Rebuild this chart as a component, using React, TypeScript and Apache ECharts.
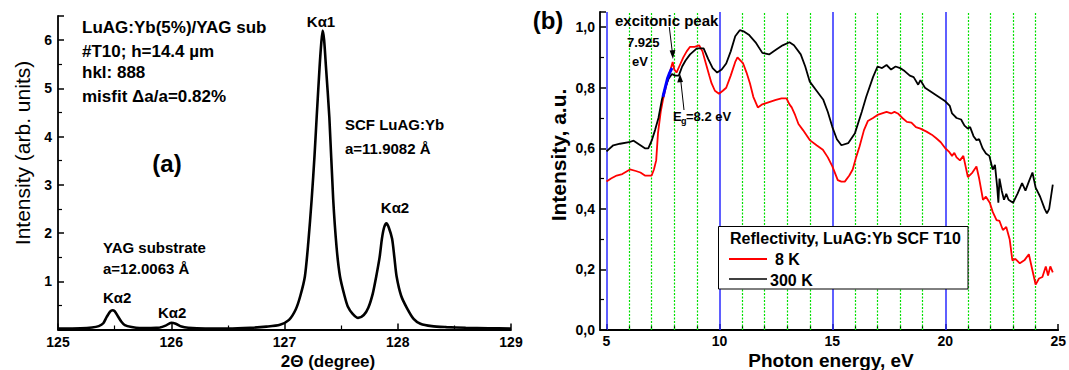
import React, { useEffect, useRef } from "react";
import * as echarts from "echarts";

// ---------- Panel (a): XRD rocking curve ----------
const xrdTheta = [
  125.0, 125.2, 125.3, 125.36, 125.4, 125.43, 125.46, 125.48, 125.5, 125.53, 125.56, 125.59, 125.65, 125.72,
  125.82, 125.9, 125.95, 126.0, 126.04, 126.09, 126.15, 126.3, 126.5, 126.7, 126.84, 126.96, 127.04, 127.1,
  127.14, 127.18, 127.21, 127.24, 127.265, 127.284, 127.31, 127.325, 127.337, 127.35, 127.366, 127.396, 127.43,
  127.46, 127.49, 127.53, 127.56, 127.6, 127.65, 127.7, 127.74, 127.78, 127.81, 127.84, 127.86, 127.88, 127.9,
  127.92, 127.95, 127.97, 127.99, 128.03, 128.08, 128.14, 128.2, 128.3, 128.43, 128.6, 128.8, 129.0,
];
const xrdIntensity = [
  0.02, 0.025, 0.04, 0.07, 0.13, 0.26, 0.37, 0.4, 0.38, 0.27, 0.16, 0.09, 0.05, 0.03,
  0.03, 0.04, 0.08, 0.14, 0.12, 0.06, 0.035, 0.02, 0.02, 0.035, 0.06, 0.1, 0.2, 0.42,
  0.7, 1.1, 1.8, 2.7, 3.6, 4.4, 5.45, 5.95, 6.2, 6.0, 5.45, 4.4, 2.7,
  1.7, 1.1, 0.7, 0.47, 0.33, 0.24, 0.3, 0.45, 0.75, 1.1, 1.5, 1.88, 2.12, 2.2,
  2.12, 1.88, 1.5, 1.1, 0.7, 0.45, 0.22, 0.12, 0.07, 0.05, 0.035, 0.025, 0.02,
];

// ---------- Panel (b): reflectivity ----------
const energy300K = [
  5.0, 5.3, 5.6, 6.0, 6.2, 6.5, 6.7, 6.85, 7.0, 7.15, 7.3, 7.45, 7.6, 7.75, 7.9, 8.05, 8.2, 8.35, 8.5, 8.7,
  9.0, 9.3, 9.5, 9.7, 9.9, 10.1, 10.3, 10.5, 10.7, 10.9, 11.1, 11.3, 11.6, 11.9, 12.2, 12.5, 12.8, 13.1, 13.3,
  13.6, 13.8, 14.0, 14.3, 14.6, 14.8, 15.0, 15.2, 15.4, 15.7, 16.0, 16.3, 16.5, 16.8, 17.0, 17.2, 17.4, 17.6,
  17.8, 18.0, 18.2, 18.43, 18.6, 18.8, 18.9, 19.1, 19.3, 19.5, 19.7, 20.0, 20.2, 20.3, 20.5, 20.7, 20.85, 21.0,
  21.1, 21.25, 21.38, 21.5, 21.65, 21.8, 21.95, 22.1, 22.2, 22.3, 22.35, 22.4, 22.5, 22.6, 22.7, 22.8, 23.0,
  23.2, 23.4, 23.55, 23.7, 23.86, 24.0, 24.2, 24.4, 24.5, 24.6, 24.76,
];
const refl300K = [
  0.59, 0.61, 0.615, 0.62, 0.625, 0.61, 0.6, 0.6, 0.625, 0.66, 0.7, 0.76, 0.8, 0.83, 0.845, 0.84, 0.84, 0.87, 0.89, 0.91,
  0.93, 0.93, 0.895, 0.865, 0.85, 0.86, 0.88, 0.92, 0.97, 0.99, 0.985, 0.975, 0.95, 0.915, 0.91, 0.925, 0.94, 0.95, 0.94,
  0.91, 0.87, 0.82, 0.79, 0.76, 0.72, 0.67, 0.63, 0.61, 0.617, 0.65, 0.72, 0.77, 0.835, 0.87, 0.865, 0.875, 0.86,
  0.87, 0.865, 0.855, 0.84, 0.835, 0.81, 0.825, 0.8, 0.79, 0.78, 0.77, 0.755, 0.74, 0.715, 0.7, 0.695, 0.675, 0.665,
  0.67, 0.64, 0.627, 0.63, 0.6, 0.583, 0.575, 0.53, 0.545, 0.47, 0.42, 0.5, 0.46, 0.43, 0.45, 0.43, 0.42,
  0.45, 0.485, 0.46, 0.49, 0.52, 0.47, 0.44, 0.4, 0.385, 0.4, 0.48,
];
const energy8K = [
  5.0, 5.2, 5.45, 5.7, 6.04, 6.3, 6.5, 6.7, 7.0, 7.1, 7.2, 7.28, 7.4, 7.5, 7.65, 7.8, 7.93, 8.0, 8.1, 8.25, 8.4,
  8.55, 8.7, 8.9, 9.1, 9.25, 9.4, 9.55, 9.65, 9.8, 9.98, 10.15, 10.3, 10.5, 10.7, 10.8, 11.05, 11.2, 11.35, 11.5,
  11.7, 11.9, 12.1, 12.3, 12.5, 12.75, 12.97, 13.1, 13.2, 13.35, 13.5, 13.7, 14.0, 14.3, 14.58, 14.8, 15.0, 15.24,
  15.4, 15.55, 15.75, 15.9, 16.05, 16.2, 16.4, 16.57, 16.8, 17.0, 17.2, 17.4, 17.6, 17.75, 17.9, 18.1, 18.3, 18.5,
  18.7, 18.9, 19.17, 19.4, 19.6, 19.8, 20.0, 20.15, 20.3, 20.4, 20.5, 20.65, 20.8, 21.0, 21.2, 21.38, 21.5, 21.67,
  21.8, 21.97, 22.1, 22.27, 22.4, 22.55, 22.7, 22.85, 22.97, 23.1, 23.3, 23.5, 23.7, 23.85, 24.0, 24.15, 24.3,
  24.45, 24.55, 24.65, 24.76,
];
const refl8K = [
  0.49, 0.5, 0.51, 0.515, 0.53, 0.525, 0.52, 0.51, 0.51, 0.53, 0.56, 0.65, 0.72, 0.76, 0.81, 0.85, 0.885, 0.86, 0.85, 0.875, 0.9,
  0.92, 0.935, 0.935, 0.94, 0.92, 0.88, 0.84, 0.815, 0.79, 0.78, 0.79, 0.8, 0.84, 0.885, 0.9, 0.88, 0.85, 0.815, 0.77,
  0.735, 0.745, 0.75, 0.755, 0.76, 0.765, 0.765, 0.745, 0.735, 0.71, 0.68, 0.66, 0.627, 0.61, 0.595, 0.57, 0.54, 0.495,
  0.49, 0.49, 0.51, 0.53, 0.57, 0.605, 0.66, 0.69, 0.7, 0.71, 0.715, 0.72, 0.715, 0.72, 0.715, 0.7, 0.687, 0.685,
  0.67, 0.665, 0.655, 0.645, 0.633, 0.62, 0.6, 0.59, 0.575, 0.585, 0.57, 0.56, 0.575, 0.505, 0.52, 0.54, 0.5, 0.43,
  0.44, 0.42, 0.39, 0.363, 0.36, 0.33, 0.34, 0.3, 0.23, 0.235, 0.22, 0.23, 0.25, 0.2, 0.15, 0.17, 0.175,
  0.21, 0.18, 0.21, 0.19,
];
const excitonEnergy = [7.5, 7.6, 7.7, 7.8, 7.9];
const excitonRefl = [0.77, 0.8, 0.83, 0.85, 0.865];

const blueGridLines = [5, 10, 15, 20];
const greenGridLines = [6, 7, 8, 9, 11, 12, 13, 14, 16, 17, 18, 19, 21, 22, 23, 24];

const FONT = "Liberation Sans, Arial, sans-serif";

const zip = (xs: number[], ys: number[]) => xs.map((x, i) => [x, ys[i]]);

function txt(text: string, x: number, y: number, size: number, opts: any = {}) {
  return {
    type: "text",
    x,
    y,
    z: 20,
    rotation: opts.rotation || 0,
    style: {
      text,
      fill: "#000",
      font: `${opts.weight || "bold"} ${size}px ${FONT}`,
      align: opts.align || "left",
      verticalAlign: "middle",
    },
  };
}

export default function App() {
  const ref = useRef<HTMLDivElement>(null);
  useEffect(() => {
    if (!ref.current) return;
    const chart = echarts.init(ref.current, null, { renderer: "svg" });
    const axisCommon = {
      axisLine: { show: true, lineStyle: { color: "#000", width: 1.8 } },
      axisTick: { show: true, inside: true, length: 6, lineStyle: { color: "#000", width: 1.5 } },
      minorTick: { show: true, length: 4, lineStyle: { color: "#000", width: 1.2 } },
      splitLine: { show: false },
      axisLabel: { color: "#000", fontWeight: "bold", fontSize: 14, fontFamily: FONT },
    };
    const option: any = {
      animation: false,
      backgroundColor: "#fff",
      textStyle: { fontFamily: FONT },
      grid: [
        { left: 58, right: 558, top: 16, bottom: 40.5 },
        { left: 606.5, right: 10, top: 12, bottom: 40 },
      ],
      xAxis: [
        {
          ...axisCommon,
          gridIndex: 0,
          type: "value",
          min: 125,
          max: 129,
          interval: 1,
          minorTick: { ...axisCommon.minorTick, splitNumber: 2 },
          axisLabel: { ...axisCommon.axisLabel, margin: 5 },
        },
        {
          ...axisCommon,
          gridIndex: 1,
          type: "value",
          min: 5,
          max: 25,
          interval: 5,
          minorTick: { ...axisCommon.minorTick, splitNumber: 5 },
          axisLabel: { ...axisCommon.axisLabel, margin: 4 },
        },
      ],
      yAxis: [
        {
          ...axisCommon,
          gridIndex: 0,
          type: "value",
          min: 0,
          max: 6.5,
          interval: 1,
          minorTick: { ...axisCommon.minorTick, splitNumber: 2 },
          axisLabel: { ...axisCommon.axisLabel, margin: 6, showMinLabel: false, showMaxLabel: false },
        },
        {
          ...axisCommon,
          gridIndex: 1,
          type: "value",
          min: 0,
          max: 1.05,
          interval: 0.2,
          offset: 6.5,
          minorTick: { ...axisCommon.minorTick, splitNumber: 2 },
          axisLabel: {
            ...axisCommon.axisLabel,
            margin: 5,
            showMaxLabel: false,
            formatter: (v: number) => v.toFixed(1).replace(".", ","),
          },
        },
      ],
      series: [
        {
          type: "line",
          xAxisIndex: 0,
          yAxisIndex: 0,
          data: zip(xrdTheta, xrdIntensity),
          showSymbol: false,
          smooth: 0.25,
          lineStyle: { color: "#000", width: 2.6 },
          silent: true,
        },
        {
          type: "line",
          xAxisIndex: 1,
          yAxisIndex: 1,
          data: zip(energy8K, refl8K),
          showSymbol: false,
          lineStyle: { color: "#ff0000", width: 1.8 },
          silent: true,
          markLine: {
            z: 1,
            silent: true,
            symbol: ["none", "none"],
            label: { show: false },
            emphasis: { disabled: true },
            data: [
              ...blueGridLines.map((v) => ({ xAxis: v, lineStyle: { color: "#2a2aff", width: 1.5, type: "solid" } })),
              ...greenGridLines.map((v) => ({ xAxis: v, lineStyle: { color: "#00e000", width: 1.2, type: [2, 1.5] } })),
            ],
          },
        },
        {
          type: "line",
          xAxisIndex: 1,
          yAxisIndex: 1,
          data: zip(energy300K, refl300K),
          showSymbol: false,
          lineStyle: { color: "#000", width: 1.8 },
          silent: true,
        },
        {
          type: "line",
          xAxisIndex: 1,
          yAxisIndex: 1,
          data: zip(excitonEnergy, excitonRefl),
          showSymbol: false,
          lineStyle: { color: "#0000ff", width: 3 },
          silent: true,
        },
      ],
      graphic: [
        // filler of bottom axis line to the offset y-axis
        { type: "line", z: 20, shape: { x1: 599.5, y1: 330, x2: 607, y2: 330 }, style: { stroke: "#000", lineWidth: 1.8 } },
        // Panel (a) texts
        txt("LuAG:Yb(5%)/YAG sub", 82, 27, 17),
        txt("#T10; h=14.4 \u00b5m", 82, 51, 17),
        txt("hkl: 888", 82, 72, 17),
        txt("misfit \u0394a/a=0.82%", 82, 96, 17),
        txt("(a)", 167, 163, 24, { align: "center" }),
        txt("YAG substrate", 103, 247, 15),
        txt("a=12.0063 \u00c5", 103, 268, 15),
        txt("K\u03b12", 103, 297, 15),
        txt("K\u03b12", 158, 312, 15),
        txt("K\u03b11", 321, 21, 15, { align: "center" }),
        txt("SCF LuAG:Yb", 345, 124, 15),
        txt("a=11.9082 \u00c5", 345, 148, 15),
        txt("K\u03b12", 395, 207, 15, { align: "center" }),
        txt("Intensity (arb. units)", 22, 153, 21, { align: "center", rotation: Math.PI / 2, weight: "normal" }),
        txt("2\u0398 (degree)", 328, 361, 17, { align: "center" }),
        // Panel (b) texts
        txt("(b)", 548, 20, 24, { align: "center" }),
        txt("Intensity, a.u.", 558, 155, 21, { align: "center", rotation: Math.PI / 2 }),
        txt("Photon energy, eV", 831, 360, 19, { align: "center" }),
        txt("excitonic peak", 615, 20, 15),
        txt("7.925", 627, 42, 13),
        txt("eV", 632, 61, 13),
        txt("E", 673, 116, 13),
        txt("g", 681, 121, 9),
        txt("=8.2 eV", 686, 116, 13),
        // arrows
        { type: "line", z: 20, shape: { x1: 669.3, y1: 27, x2: 672.3, y2: 52 }, style: { stroke: "#000", lineWidth: 1 } },
        { type: "polygon", z: 20, shape: { points: [[672.9, 59], [669.6, 50.5], [675.4, 50]] }, style: { fill: "#000" } },
        { type: "line", z: 20, shape: { x1: 684, y1: 110, x2: 680.8, y2: 81 }, style: { stroke: "#000", lineWidth: 1 } },
        { type: "polygon", z: 20, shape: { points: [[680, 74], [677.2, 82.5], [683, 82]] }, style: { fill: "#000" } },
        // legend
        { type: "rect", z: 20, shape: { x: 718.5, y: 226.5, width: 249.5, height: 62.5 }, style: { fill: "#fff", stroke: "#000", lineWidth: 1 } },
        txt("Reflectivity, LuAG:Yb SCF T10", 730, 238, 16),
        { type: "line", z: 21, shape: { x1: 729, y1: 259, x2: 767, y2: 259 }, style: { stroke: "#ff0000", lineWidth: 1.8 } },
        txt("8 K", 775, 259, 16),
        { type: "line", z: 21, shape: { x1: 729, y1: 279, x2: 767, y2: 279 }, style: { stroke: "#000", lineWidth: 1.5 } },
        txt("300 K", 770, 280, 16),
      ],
    };
    chart.setOption(option);
    return () => chart.dispose();
  }, []);
  return <div ref={ref} style={{ position: "absolute", left: 0, top: 0, width: 1069, height: 370 }} />;
}
